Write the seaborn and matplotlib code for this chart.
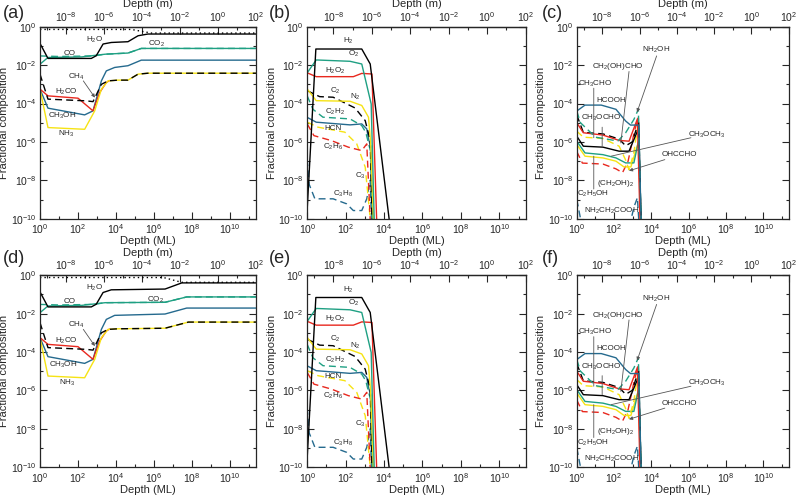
import numpy as np
import matplotlib
matplotlib.use("Agg")
import matplotlib.pyplot as plt
from matplotlib.ticker import NullFormatter
import seaborn as sns

# values as log10(depth in ML) and log10(fraction)

# panel (a): main ices
a_tot_x = [0, 4.8, 5.86, 11.4]
a_tot_y = [-0.14, -0.14, -0.33, -0.33]
a_h2o_x = [0, 0.42, 2.7, 2.96, 3.32, 3.75, 4.63, 5.16, 5.68, 11.4]
a_h2o_y = [-0.87, -1.65, -1.65, -1.51, -0.9, -0.82, -0.78, -0.47, -0.38, -0.38]
a_co_x = [0, 1.0, 2.8, 3.43, 4.63, 5.33, 11.4]
a_co_y = [-1.52, -1.55, -1.52, -1.43, -1.37, -1.13, -1.13]
a_co2_x = [0, 0.42, 2.2, 3.43, 4.63, 5.33, 11.4]
a_co2_y = [-1.95, -1.6, -1.57, -1.43, -1.37, -1.13, -1.13]
a_ch3oh_x = [0, 0.42, 2.35, 2.79, 3.23, 3.49, 3.93, 4.63, 5.33, 11.4]
a_ch3oh_y = [-3.25, -4.24, -4.59, -4.38, -2.82, -2.3, -2.12, -2.03, -1.74, -1.74]
a_h2co_x = [0, 0.42, 2.0, 2.79, 3.14, 3.49, 3.67]
a_h2co_y = [-3.25, -3.6, -3.72, -4.38, -3.43, -2.9, -2.8]
a_nh3_x = [0, 0.42, 2.35, 2.88, 3.23, 3.58, 4.1, 4.63, 5.16, 5.68, 11.4]
a_nh3_y = [-3.25, -5.25, -5.34, -4.38, -3.25, -2.82, -2.78, -2.78, -2.47, -2.42, -2.42]
a_ch4_x = [0, 0.42, 2.44, 2.79, 3.23, 3.58, 4.1, 4.63, 5.16, 5.68, 11.4]
a_ch4_y = [-2.47, -3.77, -3.86, -3.9, -3.0, -2.82, -2.78, -2.78, -2.47, -2.42, -2.42]

# panel (d): same ices, later second rise
d_tot_x = [0, 6.5, 7.46, 11.4]
d_tot_y = [-0.12, -0.12, -0.37, -0.37]
d_h2o_x = [0, 0.42, 2.7, 2.96, 3.32, 3.75, 6.58, 7.46, 11.4]
d_h2o_y = [-0.87, -1.65, -1.65, -1.51, -0.9, -0.76, -0.72, -0.4, -0.4]
d_co_x = [0, 1.0, 2.8, 3.43, 6.58, 7.72, 11.4]
d_co_y = [-1.52, -1.55, -1.52, -1.43, -1.41, -1.13, -1.13]
d_co2_x = [0, 0.42, 2.2, 3.43, 6.58, 7.72, 11.4]
d_co2_y = [-1.95, -1.6, -1.57, -1.43, -1.41, -1.13, -1.13]
d_ch3oh_x = [0, 0.42, 2.35, 2.79, 3.23, 3.49, 3.93, 6.58, 7.72, 11.4]
d_ch3oh_y = [-3.25, -4.24, -4.59, -4.38, -2.82, -2.3, -2.09, -2.02, -1.71, -1.71]
d_nh3_x = [0, 0.42, 2.35, 2.88, 3.23, 3.58, 4.1, 6.58, 7.81, 11.4]
d_nh3_y = [-3.25, -5.25, -5.34, -4.38, -3.25, -2.82, -2.79, -2.76, -2.44, -2.44]
d_ch4_x = [0, 0.42, 2.44, 2.79, 3.23, 3.58, 4.1, 6.58, 7.81, 11.4]
d_ch4_y = [-2.47, -3.77, -3.86, -3.9, -3.0, -2.82, -2.79, -2.76, -2.44, -2.44]

# panels (b)/(e): simple species
b_h2_x = [0, 0.45, 2.84, 3.28, 4.3]
b_h2_y = [-9.5, -1.16, -1.16, -1.94, -10.3]
b_o2_x = [0, 0.47, 2.23, 2.84, 3.33, 3.5]
b_o2_y = [-2.4, -1.73, -1.8, -1.94, -4.02, -10.5]
b_h2o2_x = [0, 0.47, 2.4, 2.84, 3.37, 3.63]
b_h2o2_y = [-2.4, -2.6, -2.6, -2.43, -2.46, -10.5]
b_n2_x = [0, 0.47, 2.23, 2.84, 3.19, 3.3, 3.46]
b_n2_y = [-3.24, -3.85, -3.88, -4.1, -4.71, -6.0, -10.5]
b_c2_x = [0, 0.65, 1.35, 2.49, 3.02, 3.28, 3.38]
b_c2_y = [-3.33, -3.64, -3.67, -4.23, -4.89, -5.93, -10.5]
b_c2h2_x = [0, 0.3, 0.82, 2.23, 2.84, 3.05, 3.3, 3.4]
b_c2h2_y = [-3.6, -4.3, -4.71, -4.8, -5.15, -5.5, -6.5, -10.5]
b_hcn_x = [0, 0.47, 2.23, 2.84, 3.1, 3.19, 3.3, 3.4]
b_hcn_y = [-4.72, -4.97, -5.11, -5.06, -5.32, -5.84, -6.2, -10.5]
b_c2h6_x = [0, 0.35, 1.26, 2.14, 2.84, 3.1, 3.3]
b_c2h6_y = [-5.06, -5.67, -5.93, -6.27, -6.45, -6.1, -10.5]
b_c3_x = [0, 0.56, 1.96, 2.58, 3.02, 3.28]
b_c3_y = [-4.97, -5.23, -5.49, -6.1, -7.31, -10.0]
b_c3h8_x = [0, 0.1, 0.4, 1.35, 2.05, 2.4, 2.84, 3.1, 3.28, 3.36]
b_c3h8_y = [-6.9, -8.2, -8.96, -8.96, -9.22, -9.57, -9.57, -8.96, -8.0, -10.5]

# panels (c)/(f): complex organics
c_blue_x = [0, 0.44, 1.31, 2.1, 2.62, 2.88, 3.32, 3.46]
c_blue_y = [-4.39, -4.08, -4.08, -4.3, -4.91, -5.12, -5.12, -10.5]
c_gdash_x = [0, 0.2, 1.0, 2.2, 2.62, 3.06, 3.3, 3.46]
c_gdash_y = [-4.4, -5.0, -5.75, -5.95, -5.52, -4.83, -4.3, -10.5]
c_red_x = [0, 0.35, 1.4, 2.27, 2.8, 3.25, 3.4]
c_red_y = [-5.0, -5.52, -5.64, -5.92, -5.96, -4.8, -10.5]
c_kdash_x = [0, 0.35, 1.4, 2.27, 2.62, 2.97, 3.3, 3.45]
c_kdash_y = [-4.6, -5.5, -5.58, -5.85, -6.2, -6.0, -5.0, -10.5]
c_ydash_x = [0, 0.35, 1.4, 2.27, 2.6, 2.8, 3.05, 3.3, 3.45]
c_ydash_y = [-5.44, -5.75, -5.82, -6.22, -6.9, -7.45, -6.6, -5.0, -10.5]
c_black_x = [0, 0.35, 1.4, 2.27, 2.8, 3.25, 3.32, 3.45]
c_black_y = [-5.7, -6.22, -6.27, -6.48, -6.48, -5.44, -5.0, -10.5]
c_green_x = [0, 0.44, 1.4, 2.1, 2.62, 3.06, 3.32, 3.45]
c_green_y = [-5.96, -6.57, -6.66, -6.83, -7.09, -7.09, -5.9, -10.5]
c_yellow_x = [0, 0.44, 1.4, 2.1, 2.53, 2.9, 3.3, 3.45]
c_yellow_y = [-6.13, -6.74, -6.83, -7.0, -7.3, -7.3, -6.0, -10.5]
c_rdash_x = [0, 0.3, 1.4, 2.1, 2.45, 2.75, 3.1, 3.3, 3.45]
c_rdash_y = [-6.5, -7.1, -7.15, -7.4, -7.6, -7.0, -5.4, -4.74, -10.5]
c_bdash_x = [0, 0.12, 0.3, 2.8, 3.06, 3.25, 3.35]
c_bdash_y = [-9.0, -9.6, -10.5, -10.5, -9.4, -8.9, -10.5]

# species labels (text, log depth, log fraction)
a_labels = [(r"H$_2$O", 2.89, -0.70), (r"CO$_2$", 6.14, -0.88), ("CO", 1.58, -1.39),
            (r"CH$_4$", 1.93, -2.61), (r"H$_2$CO", 1.37, -3.37),
            (r"CH$_3$OH", 1.19, -4.64), (r"NH$_3$", 1.4, -5.6)]
d_labels = [(r"H$_2$O", 2.89, -0.68), (r"CO$_2$", 6.05, -1.27), ("CO", 1.58, -1.39),
            (r"CH$_4$", 1.93, -2.61), (r"H$_2$CO", 1.37, -3.4),
            (r"CH$_3$OH", 1.23, -4.66), (r"NH$_3$", 1.45, -5.6)]
b_labels = [(r"H$_2$", 2.14, -0.76), (r"O$_2$", 2.4, -1.42), (r"H$_2$O$_2$", 1.44, -2.29),
            (r"C$_2$", 1.44, -3.33), (r"N$_2$", 2.53, -3.67), (r"C$_2$H$_2$", 1.44, -4.42),
            ("HCN", 1.35, -5.29), (r"C$_2$H$_6$", 1.35, -6.27), (r"C$_3$", 2.75, -7.75),
            (r"C$_3$H$_8$", 1.88, -8.73)]
c_labels = [(r"NH$_2$OH", 4.28, -1.22), (r"CH$_2$(OH)CHO", 2.19, -2.09),
            (r"CH$_3$CHO", 0.96, -2.96), ("HCOOH", 1.84, -3.83),
            (r"CH$_3$OCHO", 1.31, -4.77), (r"CH$_3$OCH$_3$", 6.99, -5.61),
            ("OHCCHO", 5.51, -6.66), (r"(CH$_2$OH)$_2$", 2.06, -8.14),
            (r"C$_2$H$_5$OH", 0.87, -8.71), (r"NH$_2$CH$_2$COOH", 1.84, -9.58)]
# leader lines (from, to, arrow head)
a_leaders = [((2.28, -2.82), (2.89, -3.69), True)]
c_leaders = [((4.28, -1.52), (3.23, -4.45), True), ((2.8, -2.33), (2.36, -6.05), False),
             ((0.91, -3.2), (0.91, -5.78), False), ((1.36, -5.23), (1.36, -6.22), False),
             ((6.12, -5.78), (1.84, -6.74), False), ((4.72, -6.92), (2.8, -7.5), True),
             ((0.91, -8.45), (0.91, -6.74), False)]

# axis ticks
x_major = [1e0, 1e2, 1e4, 1e6, 1e8, 1e10]
x_major_lbl = [r"10$^{0}$", r"10$^{2}$", r"10$^{4}$", r"10$^{6}$", r"10$^{8}$", r"10$^{10}$"]
x_minor = [1e1, 1e3, 1e5, 1e7, 1e9, 1e11]
m_major = [1e-8, 1e-6, 1e-4, 1e-2, 1e0, 1e2]
m_major_lbl = [r"10$^{-8}$", r"10$^{-6}$", r"10$^{-4}$", r"10$^{-2}$", r"10$^{0}$", r"10$^{2}$"]
m_minor = [1e-9, 1e-7, 1e-5, 1e-3, 1e-1, 1e1]
y_major = [1e-10, 1e-8, 1e-6, 1e-4, 1e-2, 1e0]
y_major_lbl = [r"10$^{-10}$", r"10$^{-8}$", r"10$^{-6}$", r"10$^{-4}$", r"10$^{-2}$", r"10$^{0}$"]
y_minor = [1e-9, 1e-7, 1e-5, 1e-3, 1e-1]

M_PER_ML = 4.3e-10

BLACK = "black"
GREEN = "#1fa083"
BLUE = "#256a8e"
RED = "#e8281e"
YELLOW = "#f6e314"
SOLID = "-"
DASH = (0, (5, 3))
DOT = (0, (1, 2.2))

a_series = [(a_tot_x, a_tot_y, BLACK, DOT), (a_co_x, a_co_y, GREEN, DASH),
            (a_co2_x, a_co2_y, GREEN, SOLID), (a_h2o_x, a_h2o_y, BLACK, SOLID),
            (a_ch3oh_x, a_ch3oh_y, BLUE, SOLID), (a_h2co_x, a_h2co_y, RED, SOLID),
            (a_nh3_x, a_nh3_y, YELLOW, SOLID), (a_ch4_x, a_ch4_y, BLACK, DASH)]
d_series = [(d_tot_x, d_tot_y, BLACK, DOT), (d_co_x, d_co_y, GREEN, DASH),
            (d_co2_x, d_co2_y, GREEN, SOLID), (d_h2o_x, d_h2o_y, BLACK, SOLID),
            (d_ch3oh_x, d_ch3oh_y, BLUE, SOLID), (a_h2co_x, a_h2co_y, RED, SOLID),
            (d_nh3_x, d_nh3_y, YELLOW, SOLID), (d_ch4_x, d_ch4_y, BLACK, DASH)]
b_series = [(b_c3h8_x, b_c3h8_y, BLUE, DASH), (b_c3_x, b_c3_y, YELLOW, DASH),
            (b_c2h6_x, b_c2h6_y, RED, DASH), (b_hcn_x, b_hcn_y, BLUE, SOLID),
            (b_c2h2_x, b_c2h2_y, GREEN, DASH), (b_c2_x, b_c2_y, BLACK, DASH),
            (b_n2_x, b_n2_y, YELLOW, SOLID), (b_h2o2_x, b_h2o2_y, RED, SOLID),
            (b_o2_x, b_o2_y, GREEN, SOLID), (b_h2_x, b_h2_y, BLACK, SOLID)]
c_series = [(c_bdash_x, c_bdash_y, BLUE, DASH), (c_rdash_x, c_rdash_y, RED, DASH),
            (c_yellow_x, c_yellow_y, YELLOW, SOLID), (c_green_x, c_green_y, GREEN, SOLID),
            (c_ydash_x, c_ydash_y, YELLOW, DASH), (c_black_x, c_black_y, BLACK, SOLID),
            (c_kdash_x, c_kdash_y, BLACK, DASH), (c_red_x, c_red_y, RED, SOLID),
            (c_gdash_x, c_gdash_y, GREEN, DASH), (c_blue_x, c_blue_y, BLUE, SOLID)]

sns.set_style("ticks")
plt.rcParams["font.family"] = ["Liberation Sans", "DejaVu Sans"]
plt.rcParams["mathtext.default"] = "regular"
plt.rcParams["axes.linewidth"] = 0.9

fig = plt.figure(figsize=(8, 4.95), dpi=100)

lefts = [0.05, 0.384, 0.721]
widths = [0.27, 0.273, 0.265]
bottoms = [0.558, 0.056]
height = 0.388


def set_ticks(axis, major, labels, minor):
    axis.set_ticks(major)
    axis.set_ticklabels(labels)
    axis.set_ticks(minor, minor=True)
    axis.set_minor_formatter(NullFormatter())


def make_panel(pos, series, labels, leaders, letter, letter_xy):
    ax = fig.add_axes(pos)
    for xs, ys, col, ls in series:
        sns.lineplot(x=10.0 ** np.array(xs), y=10.0 ** np.array(ys), ax=ax, color=col,
                     linestyle=ls, linewidth=1.0, estimator=None, sort=False, legend=False)
    ax.set_xscale("log")
    ax.set_yscale("log")
    ax.set_xlim(1, 2.33e11)
    ax.set_ylim(1e-10, 1)
    set_ticks(ax.xaxis, x_major, x_major_lbl, x_minor)
    set_ticks(ax.yaxis, y_major, y_major_lbl, y_minor)
    ax.tick_params(which="both", direction="in", right=True, top=False, labelsize=7.5,
                   pad=2.5)
    ax.tick_params(which="major", length=5, width=0.8)
    ax.tick_params(which="minor", length=2.5, width=0.8)
    ax.set_xlabel("Depth (ML)", fontsize=8, labelpad=0)
    ax.set_ylabel("Fractional composition", fontsize=8, labelpad=1)

    sec = ax.secondary_xaxis("top", functions=(lambda v: v * M_PER_ML, lambda v: v / M_PER_ML))
    set_ticks(sec.xaxis, m_major, m_major_lbl, m_minor)
    sec.tick_params(which="both", direction="in", labelsize=7.5, pad=2)
    sec.tick_params(which="major", length=5, width=0.8)
    sec.tick_params(which="minor", length=2.5, width=0.8)
    sec.set_xlabel("Depth (m)", fontsize=8, labelpad=2)

    for txt, lx, ly in labels:
        ax.text(10 ** lx, 10 ** ly, txt, fontsize=5.8, ha="center", va="center")
    for (x0, y0), (x1, y1), head in leaders:
        style = "-|>" if head else "-"
        ax.annotate("", xy=(10 ** x1, 10 ** y1), xytext=(10 ** x0, 10 ** y0),
                    arrowprops=dict(arrowstyle=style, color="#555555", lw=0.6,
                                    mutation_scale=5, shrinkA=0, shrinkB=0))
    fig.text(letter_xy[0], letter_xy[1], letter, fontsize=13, ha="left", va="center")
    return ax


panels = [
    (a_series, a_labels, a_leaders, "(a)", 0, 0, 0.004),
    (b_series, b_labels, [], "(b)", 1, 0, 0.336),
    (c_series, c_labels, c_leaders, "(c)", 2, 0, 0.677),
    (d_series, d_labels, a_leaders, "(d)", 0, 1, 0.004),
    (b_series, b_labels, [], "(e)", 1, 1, 0.336),
    (c_series, c_labels, c_leaders, "(f)", 2, 1, 0.677),
]
letter_y = [0.972, 0.478]

for series, labels, leaders, letter, col, row, lx in panels:
    make_panel([lefts[col], bottoms[row], widths[col], height], series, labels, leaders,
               letter, (lx, letter_y[row]))

fig.savefig("out.png", dpi=100)
